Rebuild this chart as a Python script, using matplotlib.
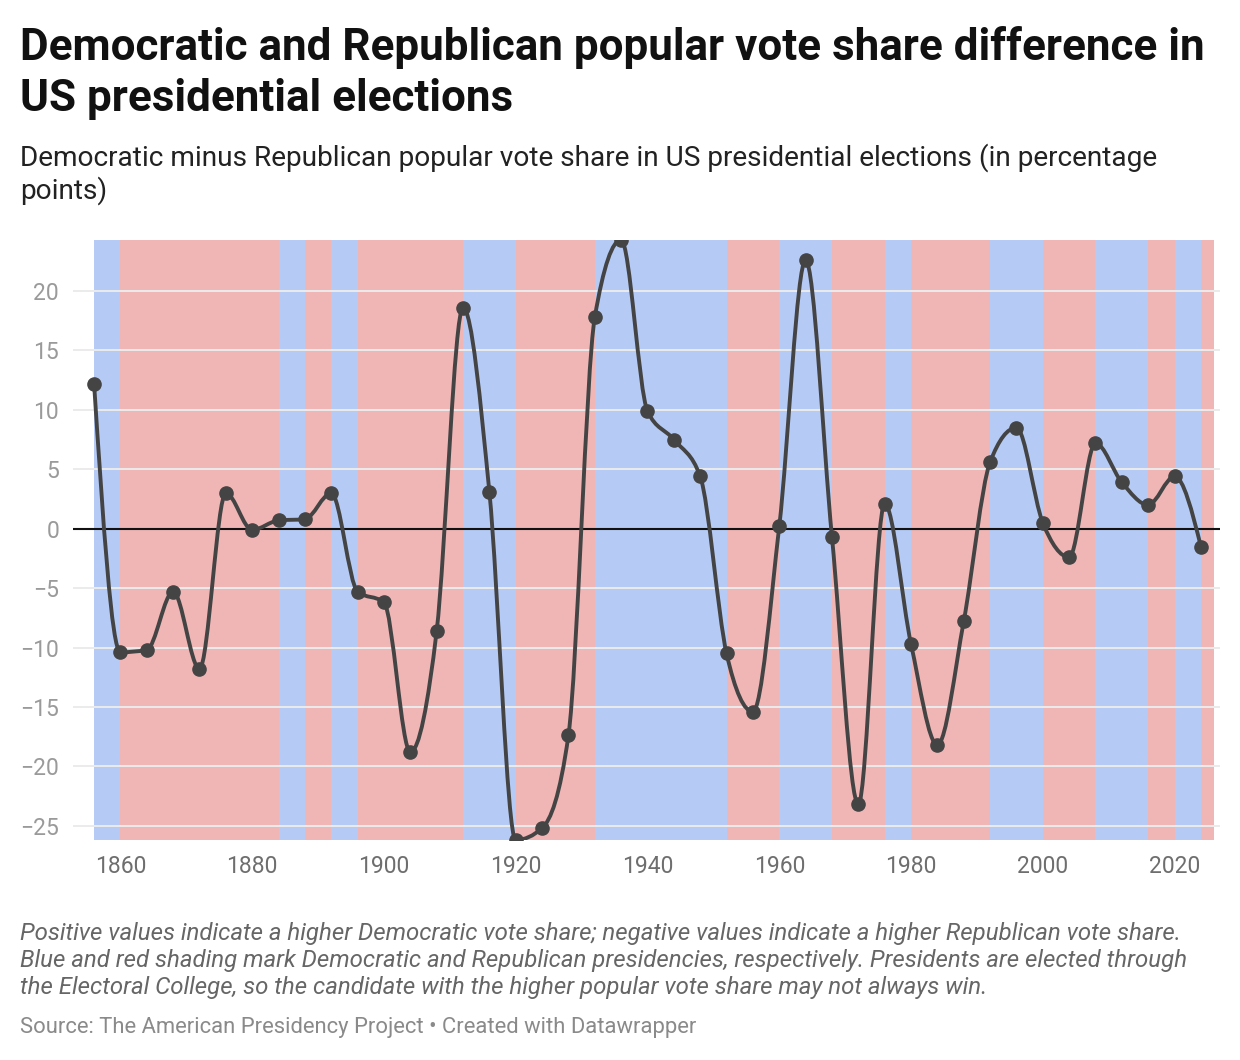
"""
Democratic minus Republican popular vote share in US presidential elections,
with the presidencies shaded by party.
"""

import numpy as np
from matplotlib import pyplot
from matplotlib.path import Path
from matplotlib.patches import PathPatch

# Election years and D - R popular vote share (percentage points).
years = [1856, 1860, 1864, 1868, 1872, 1876, 1880, 1884, 1888, 1892,
         1896, 1900, 1904, 1908, 1912, 1916, 1920, 1924, 1928, 1932,
         1936, 1940, 1944, 1948, 1952, 1956, 1960, 1964, 1968, 1972,
         1976, 1980, 1984, 1988, 1992, 1996, 2000, 2004, 2008, 2012,
         2016, 2020, 2024]
margin = [12.2, -10.4, -10.2, -5.3, -11.8, 3.0, -0.1, 0.7, 0.8, 3.0,
          -5.3, -6.2, -18.8, -8.6, 18.6, 3.1, -26.2, -25.2, -17.4, 17.8,
          24.3, 9.9, 7.5, 4.4, -10.5, -15.4, 0.2, 22.6, -0.7, -23.2,
          2.1, -9.7, -18.2, -7.8, 5.6, 8.5, 0.5, -2.4, 7.2, 3.9,
          2.0, 4.4, -1.5]

# Presidencies: start year of each shaded band and the party holding office.
band_starts = [1856, 1860, 1884, 1888, 1892, 1896, 1912, 1920, 1932, 1952,
               1960, 1968, 1976, 1980, 1992, 2000, 2008, 2016, 2020, 2024]
band_parties = ['D', 'R', 'D', 'R', 'D', 'R', 'D', 'R', 'D', 'R',
                'D', 'R', 'D', 'R', 'D', 'R', 'D', 'R', 'D', 'R']
band_end = 2026

x_ticks = [1860, 1880, 1900, 1920, 1940, 1960, 1980, 2000, 2020]
y_ticks = [-25, -20, -15, -10, -5, 0, 5, 10, 15, 20]

party_colors = {'D': '#b5cbf5', 'R': '#f0b5b5'}
line_color = '#444444'


def monotone_path(x, y):
    """Smooth path through the points, like d3's curveMonotoneX."""
    x = np.asarray(x, dtype=float)
    y = np.asarray(y, dtype=float)
    h = np.diff(x)
    s = np.diff(y) / h
    t = np.zeros_like(y)
    for i in range(1, len(y) - 1):
        p = (s[i - 1] * h[i] + s[i] * h[i - 1]) / (h[i - 1] + h[i])
        t[i] = (np.sign(s[i - 1]) + np.sign(s[i])) * min(
            abs(s[i - 1]), abs(s[i]), 0.5 * abs(p))
    t[0] = (3 * s[0] - t[1]) / 2
    t[-1] = (3 * s[-1] - t[-2]) / 2
    verts = [(x[0], y[0])]
    codes = [Path.MOVETO]
    for i in range(len(x) - 1):
        dx = h[i] / 3
        verts += [(x[i] + dx, y[i] + dx * t[i]),
                  (x[i + 1] - dx, y[i + 1] - dx * t[i + 1]),
                  (x[i + 1], y[i + 1])]
        codes += [Path.CURVE4] * 3
    return Path(verts, codes)


pyplot.rcParams['font.family'] = ['Roboto', 'DejaVu Sans']
fig = pyplot.figure(figsize=(12.4, 10.6), dpi=100)

# Plot area: gridlines reach a little past the shaded bands on both sides.
ax = fig.add_axes([73 / 1240, 220 / 1060, 1147 / 1240, 600 / 1060])
ax.set_xlim(1852.8, 2026.9)
ax.set_ylim(min(margin), max(margin))

for i, start in enumerate(band_starts):
    end = band_starts[i + 1] if i + 1 < len(band_starts) else band_end
    ax.axvspan(start, end, color=party_colors[band_parties[i]],
               lw=0, zorder=0)

for yt in y_ticks:
    if yt == 0:
        ax.axhline(0, color='#111111', lw=1.5, zorder=2)
    else:
        ax.axhline(yt, color='#ebebeb', lw=1.4, zorder=1)

ax.add_patch(PathPatch(monotone_path(years, margin), fill=False,
                       edgecolor=line_color, lw=2.8, zorder=3,
                       capstyle='round', joinstyle='round'))
ax.plot(years, margin, 'o', color=line_color, markersize=9.5, zorder=4)

ax.set_xticks(x_ticks)
ax.set_yticks(y_ticks)
ax.tick_params(axis='x', length=0, pad=11, labelsize=16.5,
               labelcolor='#6e6e6e')
ax.tick_params(axis='y', length=0, pad=10, labelsize=16.5,
               labelcolor='#9a9a9a')
for spine in ax.spines.values():
    spine.set_visible(False)

# Header and footer text.
fig.text(20 / 1240, 1 - 26 / 1060,
         'Democratic and Republican popular vote share difference in\n'
         'US presidential elections',
         fontsize=31.7, fontweight='bold', color='#111111',
         va='top', ha='left', linespacing=1.27)
fig.text(20 / 1240, 1 - 143 / 1060,
         'Democratic minus Republican popular vote share in US presidential '
         'elections (in percentage\npoints)',
         fontsize=20.2, color='#222222', va='top', ha='left', linespacing=1.18)
fig.text(20 / 1240, 1 - 922 / 1060,
         'Positive values indicate a higher Democratic vote share; negative '
         'values indicate a higher Republican vote share.\n'
         'Blue and red shading mark Democratic and Republican presidencies, '
         'respectively. Presidents are elected through\n'
         'the Electoral College, so the candidate with the higher popular '
         'vote share may not always win.',
         fontsize=17.3, style='italic', color='#666666',
         va='top', ha='left', linespacing=1.22)
fig.text(20 / 1240, 1 - 1017 / 1060,
         'Source: The American Presidency Project \u2022 Created with Datawrapper',
         fontsize=15.8, color='#8a8a8a', va='top', ha='left')

fig.savefig('out.png', dpi=100, facecolor='white')
